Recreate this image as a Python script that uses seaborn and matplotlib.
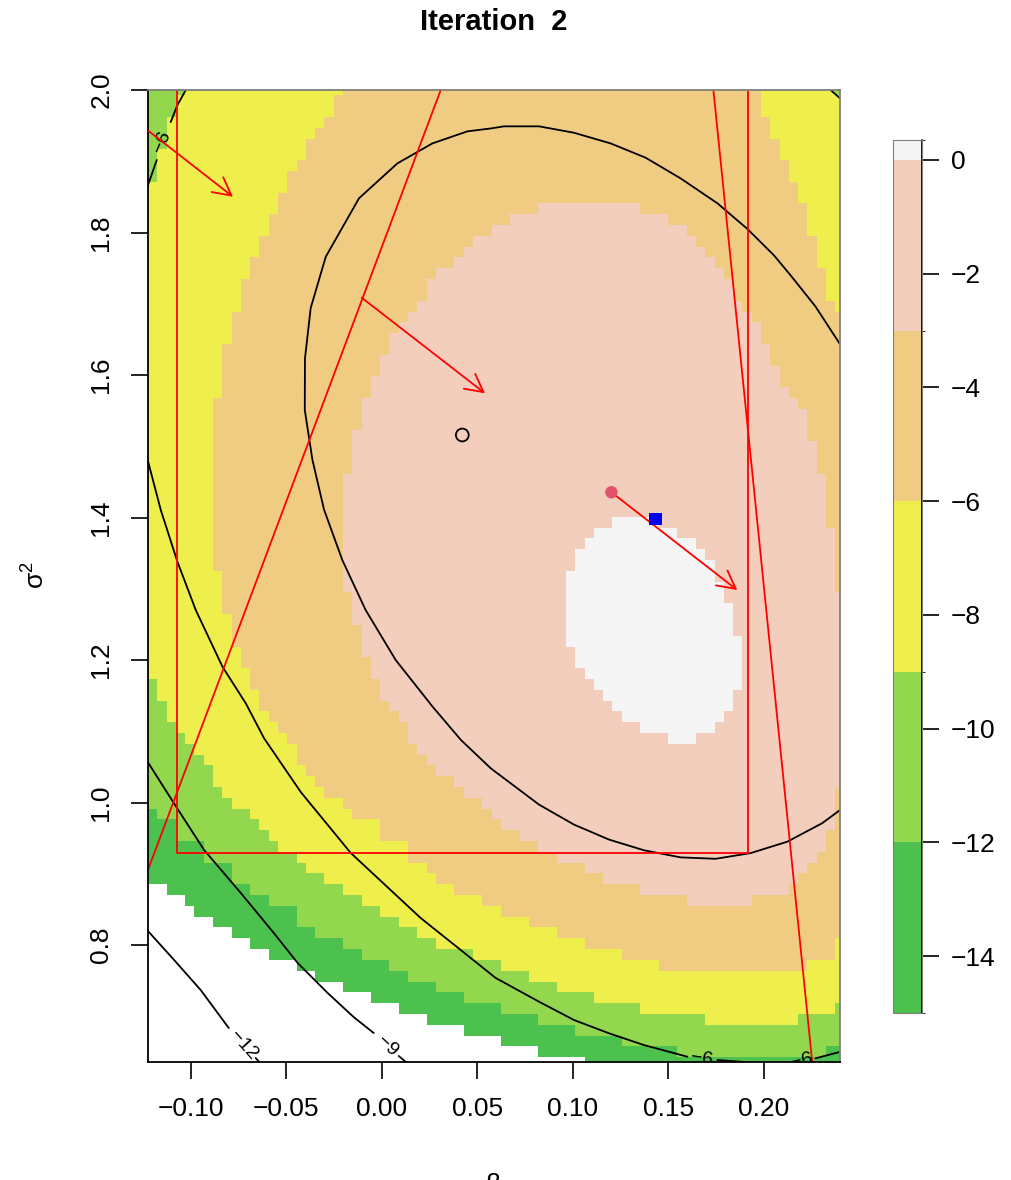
import numpy as np
import pandas as pd
import matplotlib
matplotlib.use("Agg")
import matplotlib.pyplot as plt
from matplotlib.path import Path
from matplotlib.colors import ListedColormap, BoundaryNorm
from matplotlib.patches import ArrowStyle
import seaborn as sns

# ---------------- grid on which the surface is evaluated ----------------
beta_grid = np.linspace(-0.12, 0.24, 75)
sigma2_grid = np.linspace(0.635, 2.0, 91)

# ---------------- colour bands of the surface ----------------
band_levels = [-15, -12, -9, -6, -3, 0, 0.35]
band_colors = ["#4DC14D", "#92D74D", "#EEEE4D", "#F0CC83", "#F3CEBC", "#F5F5F5"]
cbar_ticks = [-14, -12, -10, -8, -6, -4, -2, 0]

# regions where the surface lies above each band level
above15_beta = [-0.1262, 0.2429, 0.2429, 0.1062, 0.1062, 0.0819, 0.0625, 0.0430, 0.0236, 0.0091, -0.0055,
                -0.0201, -0.0347, -0.0444, -0.0590, -0.0687, -0.0784, -0.0881, -0.0979, -0.1027, -0.1124, -0.1262]
above15_sigma2 = [2.01, 2.01, 0.62, 0.62, 0.6386, 0.6495, 0.6647, 0.6799, 0.6950, 0.7102, 0.7253,
                  0.7405, 0.7556, 0.7708, 0.7860, 0.8011, 0.8163, 0.8314, 0.8466, 0.8618, 0.8769, 0.8921]

above12_beta = [-0.1262, 0.2429, 0.2429, 0.2325, 0.2325, 0.1548, 0.1548, 0.1257, 0.1014, 0.0819, 0.0625,
                0.0430, 0.0285, 0.0139, 0.0042, -0.0104, -0.0201, -0.0347, -0.0444, -0.0444, -0.0590,
                -0.0687, -0.0784, -0.0784, -0.0930, -0.0930, -0.1076, -0.1076, -0.1173, -0.1262]
above12_sigma2 = [2.01, 2.01, 0.6647, 0.6495, 0.6420, 0.6420, 0.6495, 0.6647, 0.6799, 0.6950, 0.7102,
                  0.7253, 0.7405, 0.7556, 0.7708, 0.7860, 0.8011, 0.8163, 0.8314, 0.8466, 0.8618,
                  0.8769, 0.8921, 0.9072, 0.9224, 0.9375, 0.9527, 0.9679, 0.9830, 0.9982]

above9_beta = [-0.1027, 0.2374, 0.2374, 0.2429, 0.2429, 0.2374, 0.2180, 0.2180, 0.1694, 0.1694,
               0.1353, 0.1110, 0.0916, 0.0771, 0.0625, 0.0479, 0.0285, 0.0187, 0.0091, -0.0007,
               -0.0104, -0.0201, -0.0298, -0.0395, -0.0444, -0.0541, -0.0590, -0.0638, -0.0687, -0.0784,
               -0.0833, -0.0881, -0.0881, -0.0930, -0.0979, -0.1027, -0.1076, -0.1124, -0.1124, -0.1173,
               -0.1173, -0.1262, -0.1262, -0.1173, -0.1173, -0.1124, -0.1124, -0.1076, -0.1076, -0.1027]
above9_sigma2 = [2.01, 2.01, 1.9992, 1.9840, 0.7253, 0.7102, 0.6950, 0.6874, 0.6874, 0.6950,
                 0.7102, 0.7253, 0.7405, 0.7556, 0.7708, 0.7860, 0.8011, 0.8163, 0.8314, 0.8466,
                 0.8618, 0.8769, 0.8921, 0.9072, 0.9224, 0.9375, 0.9527, 0.9679, 0.9830, 0.9982,
                 1.0133, 1.0285, 1.0436, 1.0588, 1.0740, 1.0891, 1.1043, 1.1194, 1.1346, 1.1498,
                 1.1649, 1.1801, 1.8627, 1.8779, 1.9082, 1.9234, 1.9537, 1.9688, 1.9840, 1.9992]

above6_beta = [-0.0201, 0.1985, 0.1985, 0.2034, 0.2034, 0.2082, 0.2082, 0.2131, 0.2131, 0.2180,
               0.2180, 0.2228, 0.2228, 0.2277, 0.2277, 0.2325, 0.2325, 0.2374, 0.2429, 0.2429,
               0.2374, 0.2374, 0.2228, 0.2228, 0.1451, 0.1451, 0.1257, 0.1062, 0.0916, 0.0771,
               0.0625, 0.0528, 0.0382, 0.0285, 0.0236, 0.0139, 0.0139, -0.0007, -0.0007, -0.0152,
               -0.0201, -0.0298, -0.0347, -0.0395, -0.0444, -0.0444, -0.0493, -0.0541, -0.0590, -0.0638,
               -0.0638, -0.0687, -0.0687, -0.0736, -0.0736, -0.0784, -0.0784, -0.0833, -0.0833, -0.0881,
               -0.0881, -0.0833, -0.0833, -0.0784, -0.0784, -0.0736, -0.0736, -0.0687, -0.0687, -0.0638,
               -0.0638, -0.0590, -0.0590, -0.0541, -0.0541, -0.0493, -0.0493, -0.0444, -0.0395, -0.0395,
               -0.0347, -0.0298, -0.0250, -0.0250, -0.0201]
above6_sigma2 = [2.01, 2.01, 1.9688, 1.9537, 1.9385, 1.9234, 1.9082, 1.8931, 1.8779, 1.8627,
                 1.8476, 1.8324, 1.8021, 1.7869, 1.7566, 1.7415, 1.7112, 1.6960, 1.6808, 0.8168,
                 0.8021, 0.7867, 0.7712, 0.7635, 0.7635, 0.7712, 0.7867, 0.8021, 0.8168, 0.8316,
                 0.8470, 0.8625, 0.8779, 0.8926, 0.9074, 0.9228, 0.9382, 0.9537, 0.9684, 0.9832,
                 0.9986, 1.0140, 1.0295, 1.0442, 1.0589, 1.0744, 1.0898, 1.1053, 1.1200, 1.1347,
                 1.1502, 1.1656, 1.1811, 1.1958, 1.2105, 1.2260, 1.2568, 1.2716, 1.3172, 1.3326,
                 1.5596, 1.5747, 1.6354, 1.6505, 1.6808, 1.6960, 1.7263, 1.7415, 1.7566, 1.7718,
                 1.7869, 1.8021, 1.8172, 1.8324, 1.8476, 1.8627, 1.8779, 1.8931, 1.9082, 1.9234,
                 1.9385, 1.9537, 1.9688, 1.9840, 1.9992]

above3_beta = [0.0822, 0.1356, 0.1356, 0.1499, 0.1596, 0.1645, 0.1694, 0.1742, 0.1791, 0.1839,
               0.1839, 0.1888, 0.1937, 0.1985, 0.1985, 0.2034, 0.2034, 0.2082, 0.2082, 0.2131,
               0.2180, 0.2228, 0.2228, 0.2277, 0.2277, 0.2325, 0.2325, 0.2374, 0.2374, 0.2429,
               0.2429, 0.2374, 0.2374, 0.2325, 0.2325, 0.2277, 0.2228, 0.2180, 0.2131, 0.1937, 0.1937,
               0.1596, 0.1596, 0.1353, 0.1159, 0.1062, 0.0916, 0.0819, 0.0722, 0.0625, 0.0576,
               0.0528, 0.0430, 0.0382, 0.0285, 0.0236, 0.0187, 0.0139, 0.0139, 0.0091, 0.0042,
               -0.0007, -0.0007, -0.0055, -0.0055, -0.0104, -0.0104, -0.0152, -0.0152, -0.0201, -0.0201,
               -0.0152, -0.0152, -0.0104, -0.0104, -0.0055, -0.0055, -0.0007, -0.0007, 0.0042, 0.0042,
               0.0091, 0.0139, 0.0187, 0.0236, 0.0236, 0.0285, 0.0382, 0.0430, 0.0479, 0.0576,
               0.0673, 0.0822]
above3_sigma2 = [1.8407, 1.8407, 1.8323, 1.8168, 1.8021, 1.7874, 1.7719, 1.7572, 1.7425, 1.7270,
                 1.7116, 1.6961, 1.6807, 1.6660, 1.6512, 1.6358, 1.6204, 1.6049, 1.5902, 1.5754,
                 1.5600, 1.5446, 1.5137, 1.4989, 1.4688, 1.4533, 1.3930, 1.3775, 1.3018, 1.2863,
                 1.0295, 1.0140, 0.9684, 0.9537, 0.9382, 0.9228, 0.9074, 0.8926, 0.8779, 0.8625, 0.8547,
                 0.8547, 0.8625, 0.8779, 0.8926, 0.9074, 0.9228, 0.9382, 0.9537, 0.9684, 0.9832,
                 0.9986, 1.0140, 1.0295, 1.0442, 1.0589, 1.0744, 1.0898, 1.1053, 1.1200, 1.1347,
                 1.1502, 1.1656, 1.1811, 1.1958, 1.2105, 1.2414, 1.2568, 1.2863, 1.3018, 1.4533,
                 1.4688, 1.5137, 1.5291, 1.5600, 1.5754, 1.5902, 1.6049, 1.6204, 1.6358, 1.6512,
                 1.6660, 1.6807, 1.6961, 1.7116, 1.7270, 1.7425, 1.7572, 1.7719, 1.7874, 1.8021,
                 1.8168, 1.8323]

above0_beta = [0.1208, 0.1451, 0.1451, 0.1548, 0.1645, 0.1694, 0.1742, 0.1742, 0.1791, 0.1791,
               0.1839, 0.1839, 0.1888, 0.1888, 0.1888, 0.1839, 0.1839, 0.1791, 0.1742, 0.1645,
               0.1645, 0.1499, 0.1499, 0.1353, 0.1257, 0.1208, 0.1159, 0.1110, 0.1062, 0.1014,
               0.1014, 0.0965, 0.0965, 0.1014, 0.1014, 0.1062, 0.1110, 0.1208]
above0_sigma2 = [1.4001, 1.4001, 1.3926, 1.3774, 1.3622, 1.3471, 1.3319, 1.3168, 1.3016, 1.2865,
                 1.2713, 1.2410, 1.2258, 1.1804, 1.1652, 1.1500, 1.1349, 1.1197, 1.1046, 1.0894,
                 1.0818, 1.0818, 1.0894, 1.1046, 1.1197, 1.1349, 1.1500, 1.1652, 1.1804, 1.1955,
                 1.2107, 1.2258, 1.3168, 1.3319, 1.3471, 1.3622, 1.3774, 1.3926]

# ---------------- black contour lines ----------------
c3_beta = [0.2403, 0.2272, 0.2141, 0.2054, 0.1915, 0.1758, 0.1565, 0.1382, 0.1199, 0.1007, 0.0824,
           0.0640, 0.0571, 0.0449, 0.0265, 0.0082, -0.0119, -0.0293, -0.0372, -0.0402, -0.0403,
           -0.0363, -0.0302, -0.0206, -0.0084, 0.0073, 0.0265, 0.0414, 0.0571, 0.0824, 0.1007,
           0.1190, 0.1373, 0.1565, 0.1749, 0.1932, 0.2124, 0.2307, 0.2403]
c3_sigma2 = [1.642, 1.696, 1.740, 1.768, 1.805, 1.841, 1.876, 1.905, 1.925, 1.940, 1.949,
             1.949, 1.946, 1.942, 1.925, 1.897, 1.848, 1.766, 1.694, 1.623, 1.551,
             1.481, 1.411, 1.340, 1.270, 1.200, 1.135, 1.088, 1.048, 0.997, 0.969,
             0.948, 0.933, 0.923, 0.921, 0.929, 0.945, 0.971, 0.990]

c6_pieces_beta = [[-0.1016, -0.1026, -0.1070, -0.1105],
                  [-0.1178, -0.1221, -0.1236],
                  [-0.1236, -0.1221, -0.1157, -0.1070, -0.0974, -0.0834, -0.0712, -0.0616, -0.0424,
                   -0.0162, 0.0204, 0.0597, 0.0824, 0.1007, 0.1190, 0.1373, 0.1601],
                  [0.1758, 0.1880, 0.2037],
                  [0.2272, 0.2403, 0.2455],
                  [0.2325, 0.2351, 0.2398, 0.2429]]
c6_pieces_sigma2 = [[2.007, 2.0, 1.9789, 1.955],
                    [1.9018, 1.869, 1.8597],
                    [1.4905, 1.4760, 1.4105, 1.3380, 1.2702, 1.1906, 1.1392, 1.0901, 1.0147,
                     0.9291, 0.8379, 0.7537, 0.7204, 0.6947, 0.6761, 0.6596, 0.6432],
                    [0.6386, 0.6362, 0.6302],
                    [0.6410, 0.6502, 0.6540],
                    [2.0084, 2.0, 1.9888, 1.9804]]

c9_pieces_beta = [[-0.1262, -0.1221, -0.1079, -0.0930, -0.0738, -0.0565, -0.0440, -0.0283, -0.0147, -0.0042],
                  [0.0089, 0.0152]]
c9_pieces_sigma2 = [[1.0723, 1.0550, 0.9951, 0.9333, 0.8730, 0.8168, 0.7747, 0.7326, 0.6989, 0.6765],
                    [0.6442, 0.6302]]

c12_pieces_beta = [[-0.1262, -0.1221, -0.1087, -0.0948, -0.0801], [-0.0660, -0.0623]]
c12_pieces_sigma2 = [[0.8306, 0.8187, 0.7789, 0.7368, 0.6835], [0.6414, 0.6302]]

contour_labels = ["\u22126", "\u22126", "\u22126", "\u22129", "\u221212"]
label_beta = [-0.1153, 0.1675, 0.2199, 0.0031, -0.0723]
label_sigma2 = [1.9274, 0.6400, 0.6372, 0.6582, 0.6596]
label_angle = [68, -8, 14, -43, -48]

# ---------------- red annotations ----------------
box_beta = [-0.1073, 0.1920]
box_sigma2 = [0.9287, 2.05]
line1_beta = [-0.1221, 0.0309]
line1_sigma2 = [0.9076, 2.0]
line2_beta = [0.1737, 0.2255]
line2_sigma2 = [2.0, 0.6344]
arrow_tail_beta = [-0.1221, -0.0105, 0.1203]
arrow_tail_sigma2 = [1.9425, 1.7085, 1.4354]
arrow_tip_beta = [-0.0779, 0.0541, 0.1862]
arrow_tip_sigma2 = [1.8502, 1.5743, 1.2982]

# ---------------- points ----------------
start_beta, start_sigma2 = [0.0422], [1.5158]
current_beta, current_sigma2 = [0.1203], [1.4354]
best_beta, best_sigma2 = [0.1432], [1.3979]

# ================= build the banded surface =================
B, S = np.meshgrid(beta_grid, sigma2_grid)
centres = np.column_stack([B.ravel(), S.ravel()])
regions = [(above15_beta, above15_sigma2), (above12_beta, above12_sigma2), (above9_beta, above9_sigma2),
           (above6_beta, above6_sigma2), (above3_beta, above3_sigma2), (above0_beta, above0_sigma2)]
band = np.zeros(B.size, dtype=int)
for bx, by in regions:
    band += Path(np.column_stack([bx, by])).contains_points(centres).astype(int)
band = band.reshape(B.shape)
mids = np.array([(band_levels[i] + band_levels[i + 1]) / 2 for i in range(len(band_levels) - 1)])
Z = np.where(band > 0, mids[np.clip(band - 1, 0, len(mids) - 1)], np.nan)

# ================= drawing =================
sns.set_style("white")
plt.rcParams['font.family'] = ['Liberation Sans', 'DejaVu Sans']
plt.rcParams['mathtext.fontset'] = 'custom'
plt.rcParams['mathtext.rm'] = 'Liberation Sans'
plt.rcParams['mathtext.it'] = 'Liberation Sans:italic'
plt.rcParams['text.color'] = 'black'
plt.rcParams['axes.labelcolor'] = 'black'
plt.rcParams['xtick.color'] = 'black'
plt.rcParams['ytick.color'] = 'black'

fig = plt.figure(figsize=(10.12, 11.8), dpi=100)
ax = fig.add_axes([148 / 1012, 1 - 1062 / 1180, 692 / 1012, 972 / 1180])

cmap = ListedColormap(band_colors)
norm = BoundaryNorm(band_levels, cmap.N)
mesh = ax.pcolormesh(beta_grid, sigma2_grid, np.ma.masked_invalid(Z), shading='nearest',
                     cmap=cmap, norm=norm, antialiased=False, edgecolors='none', linewidth=0)

lw = 1.3
sns.lineplot(x=c3_beta, y=c3_sigma2, sort=False, estimator=None, color='black', lw=lw, ax=ax)
for xs, ys in zip(c6_pieces_beta + c9_pieces_beta + c12_pieces_beta,
                  c6_pieces_sigma2 + c9_pieces_sigma2 + c12_pieces_sigma2):
    sns.lineplot(x=xs, y=ys, sort=False, estimator=None, color='black', lw=lw, ax=ax)
for txt, bx, by, ang in zip(contour_labels, label_beta, label_sigma2, label_angle):
    ax.text(bx, by, txt, rotation=ang, rotation_mode='anchor', ha='center', va='center',
            fontsize=14, color='black', clip_on=True)

# red box and lines
rb = [box_beta[0], box_beta[1], box_beta[1], box_beta[0], box_beta[0]]
rs = [box_sigma2[1], box_sigma2[1], box_sigma2[0], box_sigma2[0], box_sigma2[1]]
ax.plot(rb, rs, color='red', lw=lw)
ax.axline((line1_beta[0], line1_sigma2[0]), (line1_beta[1], line1_sigma2[1]), color='red', lw=lw)
ax.axline((line2_beta[0], line2_sigma2[0]), (line2_beta[1], line2_sigma2[1]), color='red', lw=lw)
for tb, ts, hb, hs in zip(arrow_tail_beta, arrow_tail_sigma2, arrow_tip_beta, arrow_tip_sigma2):
    ax.annotate('', xy=(hb, hs), xytext=(tb, ts),
                arrowprops=dict(arrowstyle=ArrowStyle('->', head_length=0.85, head_width=0.45),
                                color='red', lw=lw, shrinkA=0, shrinkB=0, mutation_scale=15))

sns.scatterplot(x=start_beta, y=start_sigma2, marker='o', s=85, facecolor='none',
                edgecolor='black', linewidth=1.3, ax=ax, zorder=5)
sns.scatterplot(x=current_beta, y=current_sigma2, marker='o', s=80, color='#DF536B',
                edgecolor='none', ax=ax, zorder=5)
sns.scatterplot(x=best_beta, y=best_sigma2, marker='s', s=85, color='#0000FF',
                edgecolor='none', ax=ax, zorder=5)

ax.set_xlim(-0.1224, 0.2400)
ax.set_ylim(0.6358, 2.0)
ax.set_xticks([-0.10, -0.05, 0.00, 0.05, 0.10, 0.15, 0.20])
ax.set_xticklabels(["\u22120.10", "\u22120.05", "0.00", "0.05", "0.10", "0.15", "0.20"])
ax.set_yticks([0.8, 1.0, 1.2, 1.4, 1.6, 1.8, 2.0])
ax.set_yticklabels(["0.8", "1.0", "1.2", "1.4", "1.6", "1.8", "2.0"])
ax.tick_params(axis='both', direction='out', length=12, width=1.2, labelsize=19, pad=13,
               bottom=True, left=True, color='black', labelcolor='black')
for lab in ax.get_yticklabels():
    lab.set_rotation(90)
    lab.set_va('center')
ax.set_xlabel('')
ax.set_ylabel('')
for side in ['left', 'bottom']:
    ax.spines[side].set_color('black')
    ax.spines[side].set_linewidth(1.3)
for side in ['top', 'right']:
    ax.spines[side].set_color('#7f7f7f')
    ax.spines[side].set_linewidth(1.3)

fig.text(494 / 1012, 1 - 22 / 1180, "Iteration  2", ha='center', va='center', fontsize=21,
         fontweight='bold', color='black')
fig.text(36 / 1012, 1 - 575 / 1180, r'$\mathrm{\sigma}^2$', ha='center', va='center', fontsize=19,
         rotation=90, color='black')
fig.text(493 / 1012, -5 / 1180, '\u03b2', ha='center', va='center', fontsize=19, color='black')

# colour key
cax = fig.add_axes([893 / 1012, 1 - 1013 / 1180, 29 / 1012, 873 / 1180])
cb = fig.colorbar(mesh, cax=cax, ticks=cbar_ticks, spacing='proportional')
cb.outline.set_edgecolor('#7f7f7f')
cb.outline.set_linewidth(0.8)
cax.set_yticklabels(["\u221214", "\u221212", "\u221210", "\u22128", "\u22126", "\u22124", "\u22122", "0"])
cax.tick_params(axis='y', direction='out', length=12, width=1.2, labelsize=19, pad=9,
                color='black', labelcolor='black')
cax.plot([1, 1], [0, 1], transform=cax.transAxes, color='black', lw=1.3, clip_on=False)

fig.savefig("out.png", dpi=100)
